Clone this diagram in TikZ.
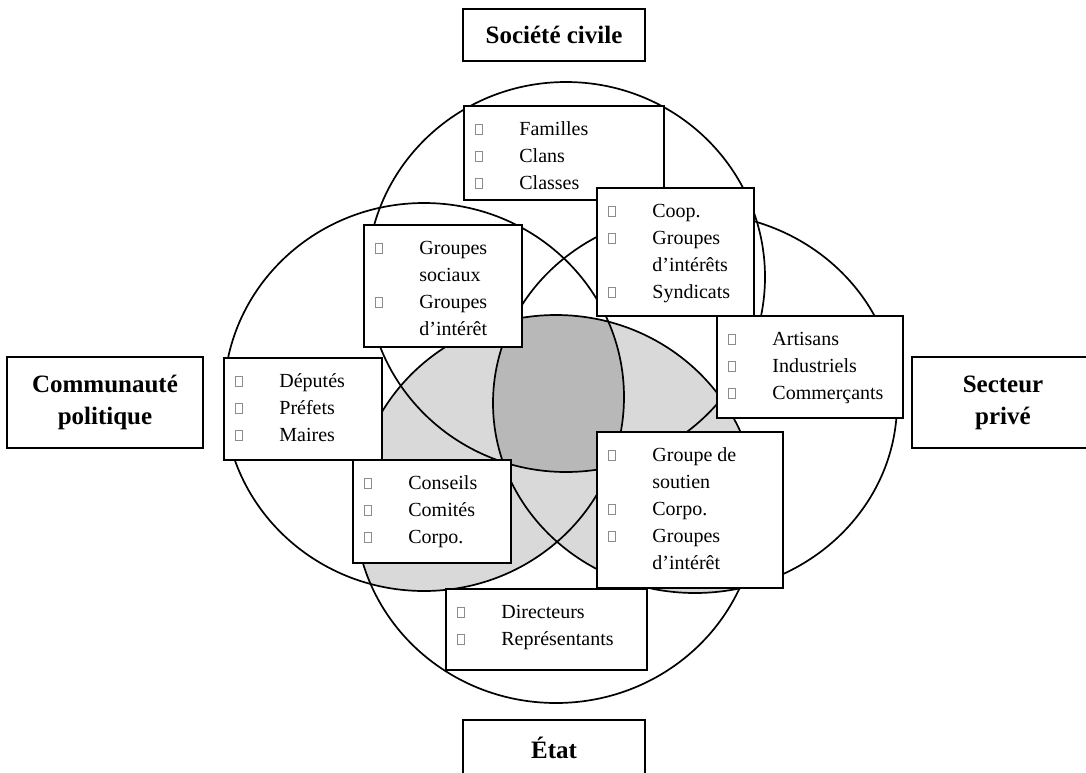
\documentclass[tikz,border=0pt]{standalone}
\usepackage{fontspec}
\setmainfont{Liberation Serif}
\usetikzlibrary{calc}

% small hollow square used as list bullet
\newcommand\itembul{\raisebox{0.5pt}{\textcolor{black!45}{\setlength\fboxrule{0.4pt}\setlength\fboxsep{0pt}\fbox{\rule{0pt}{4.6pt}\rule{3pt}{0pt}}}}}

\tikzset{
  ring/.style={line width=0.85pt},
  lightshade/.style={fill=black!15},
  darkshade/.style={fill=black!28},
  itembox/.style={draw, line width=1.1pt, fill=white, anchor=north west, inner sep=0pt},
  itemlist/.style={anchor=base west, inner sep=0pt, font=\fontsize{10}{13.5}\selectfont},
  titlebox/.style={draw, line width=1.1pt, fill=white, inner sep=0pt, align=center,
                   font=\fontsize{12.5}{16}\selectfont\bfseries},
}

% boxed list: name, x, y, width, height, rows
\newcommand\listbox[6]{%
  \node[itembox, minimum width=#4*0.5pt, minimum height=#5*0.5pt] (#1) at (#2,#3) {};
  \node[itemlist] (#1-txt) at ($(#1.north west)+(12,30)$)
    {\begin{tabular}[t]{@{}p{22pt}@{}l@{}}#6\end{tabular}};
}

\begin{document}
\begin{tikzpicture}[x=0.5pt, y=-0.5pt]
  \useasboundingbox (0,0) rectangle (1086,772);

  % centres of the four spheres
  \coordinate (T) at (566,277);
  \coordinate (L) at (424,397);
  \coordinate (R) at (695,403);
  \coordinate (B) at (556,509);

  % overlaps with the state sphere
  \begin{scope}
    \clip (B) ellipse [x radius=201, y radius=194];
    \fill[lightshade] (L) ellipse [x radius=200, y radius=194]
                      (R) ellipse [x radius=202, y radius=190]
                      (T) ellipse [x radius=199, y radius=195];
  \end{scope}
  % common core of all four spheres
  \begin{scope}
    \clip (B) ellipse [x radius=201, y radius=194];
    \clip (L) ellipse [x radius=200, y radius=194];
    \clip (R) ellipse [x radius=202, y radius=190];
    \fill[darkshade] (T) ellipse [x radius=199, y radius=195];
  \end{scope}

  \draw[ring] (T) ellipse [x radius=199, y radius=195];
  \draw[ring] (L) ellipse [x radius=200, y radius=194];
  \draw[ring] (R) ellipse [x radius=202, y radius=190];
  \draw[ring] (B) ellipse [x radius=201, y radius=194];

  % actors in each overlap
  \listbox{fam}{463}{105}{200}{94}{\itembul & Familles\\ \itembul & Clans\\ \itembul & Classes}
  \listbox{coop}{596}{187}{157}{128}{\itembul & Coop.\\ \itembul & Groupes\\ & d’intérêts\\ \itembul & Syndicats}
  \listbox{gsoc}{363}{224}{158}{122}{\itembul & Groupes\\ & sociaux\\ \itembul & Groupes\\ & d’intérêt}
  \listbox{dep}{223}{357}{158}{102}{\itembul & Députés\\ \itembul & Préfets\\ \itembul & Maires}
  \listbox{cons}{352}{459}{158}{103}{\itembul & Conseils\\ \itembul & Comités\\ \itembul & Corpo.}
  \listbox{art}{716}{315}{186}{102}{\itembul & Artisans\\ \itembul & Industriels\\ \itembul & Commerçants}
  \listbox{gsout}{596}{431}{186}{156}{\itembul & Groupe de\\ & soutien\\ \itembul & Corpo.\\ \itembul & Groupes\\ & d’intérêt}
  \listbox{dir}{445}{588}{201}{81}{\itembul & Directeurs\\ \itembul & Représentants}

  % sphere titles
  \node[titlebox, minimum width=91pt, minimum height=26pt] (sc) at (554,35) {Société civile};
  \node[titlebox, minimum width=98pt, minimum height=45.5pt] (cp) at (105,402.5) {Communauté\\politique};
  \node[titlebox, minimum width=91pt, minimum height=45.5pt] (sp) at (1003,402.5) {Secteur\\privé};
  \node[titlebox, minimum width=91pt, minimum height=27.5pt] (et) at (554,747.5) {État};
\end{tikzpicture}
\end{document}
